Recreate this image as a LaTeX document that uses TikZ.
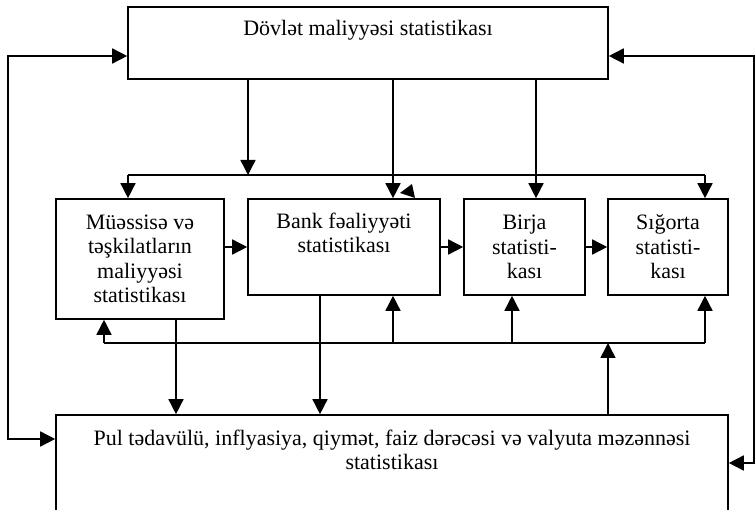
\documentclass[tikz,border=0pt]{standalone}
\usepackage{fontspec}
\setmainfont{Liberation Serif}
\usetikzlibrary{arrows.meta}
\begin{document}
\begin{tikzpicture}[x=1pt,y=-1pt,
  box/.style={draw,line width=1.6pt,inner sep=0pt,rectangle},
  txt/.style={align=center,font=\fontsize{22}{24.5}\selectfont,inner sep=0pt},
  ln/.style={line width=1.5pt},
  arr/.style={ln,-{Triangle[width=15pt,length=15pt]}},
  arr2/.style={ln,{Triangle[width=15pt,length=15pt]}-{Triangle[width=15pt,length=15pt]}}]
\useasboundingbox (0,0) rectangle (756,510);
% boxes
\node[box,minimum width=480pt,minimum height=72pt] (top) at (368,43) {};
\node[txt] (toptxt) at (368,30) {Dövlət maliyyəsi statistikası};
\node[box,minimum width=168pt,minimum height=120pt,txt] (left) at (140,259) {Müəssisə və\\təşkilatların\\maliyyəsi\\statistikası};
\node[box,minimum width=192pt,minimum height=96pt] (bank) at (344,247) {};
\node[txt] (banktxt) at (344,233) {Bank fəaliyyəti\\statistikası};
\node[box,minimum width=121pt,minimum height=96pt,txt] (birja) at (524.5,247) {Birja\\statisti-\\kası};
\node[box,minimum width=120pt,minimum height=96pt,txt] (sig) at (668,247) {Sığorta\\statisti-\\kası};
\node[box,minimum width=672pt,minimum height=130pt] (bot) at (392,480) {};
\node[txt] (bottxt) at (392,450) {Pul tədavülü, inflyasiya, qiymət, faiz dərəcəsi və valyuta məzənnəsi\\statistikası};
% coordinates
\coordinate (L1) at (8,56);
\coordinate (L2) at (8,439);
\coordinate (R1) at (754,56);
\coordinate (R2) at (754,463);
\coordinate (J) at (248,175);
\coordinate (H1) at (128,175);
\coordinate (H2) at (705,175);
\coordinate (cb) at (393,175);
\coordinate (cr) at (536,175);
\coordinate (B1) at (104,343);
\coordinate (B2) at (705,343);
\coordinate (Bb) at (393,343);
\coordinate (Br) at (512,343);
\coordinate (Bu) at (608,343);
\coordinate (D1) at (176,343);
\coordinate (D2) at (320,343);
% side loops
\draw[arr2] (top.west |- L1) -- (L1) -- (L2) -- (bot.west |- L2);
\draw[arr2] (top.east |- R1) -- (R1) -- (R2) -- (bot.east |- R2);
% top distribution
\draw[arr] (J |- top.south) -- (J);
\draw[ln] (H1) -- (H2);
\draw[arr] (H1) -- (H1 |- left.north);
\draw[arr] (H2) -- (H2 |- sig.north);
\draw[arr] (cb |- top.south) -- (cb |- bank.north);
\draw[arr] (cr |- top.south) -- (cr |- birja.north);
\fill (400,193) -- (412,184) -- (415,198) -- cycle;
% horizontal chain
\draw[arr] (bank.west -| left.east) -- (bank.west);
\draw[arr] (bank.east) -- (birja.west);
\draw[arr] (birja.east) -- (sig.west);
% bottom bus
\draw[ln] (B1) -- (B2);
\draw[arr] (B1) -- (B1 |- left.south);
\draw[arr] (Bb) -- (Bb |- bank.south);
\draw[arr] (Br) -- (Br |- birja.south);
\draw[arr] (B2) -- (B2 |- sig.south);
\draw[arr] (Bu |- bot.north) -- (Bu);
\draw[arr] (D1 |- left.south) -- (D1 |- bot.north);
\draw[arr] (D2 |- bank.south) -- (D2 |- bot.north);
\end{tikzpicture}
\end{document}
